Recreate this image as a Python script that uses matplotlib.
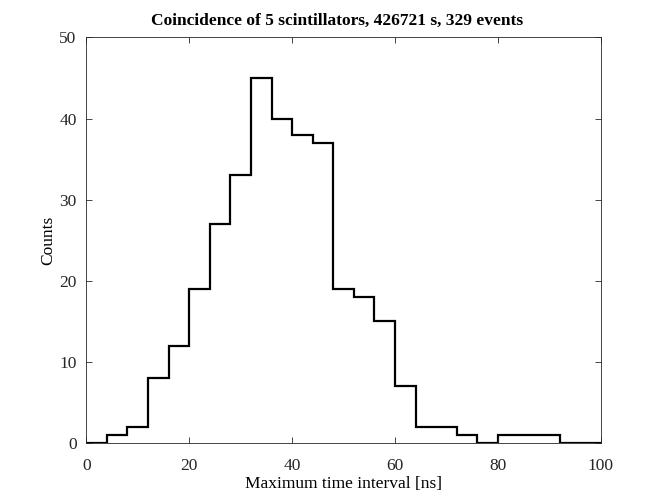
import matplotlib
matplotlib.use("Agg")
import matplotlib.pyplot as plt
import numpy as np

# bin edges (4 ns wide) and counts per bin
bin_edges = np.arange(0, 101, 4)
counts = [0, 1, 2, 8, 12, 19, 27, 33, 45, 40, 38, 37, 19,
          18, 15, 7, 2, 2, 1, 0, 1, 1, 1, 0, 0]

plt.rcParams.update({
    "font.family": "Liberation Serif",
    "font.size": 12,
    "axes.edgecolor": "#262626",
    "xtick.color": "#262626",
    "ytick.color": "#262626",
})

fig = plt.figure(figsize=(6.64, 4.98), dpi=100)
ax = fig.add_axes([0.13, 0.11, 0.775, 0.815])

ax.stairs(counts, bin_edges, color="black", linewidth=1.6)

ax.set_xlim(0, 100)
ax.set_ylim(0, 50)
ax.set_xticks(np.arange(0, 101, 20))
ax.set_yticks(np.arange(0, 51, 10))
ax.tick_params(direction="in", top=True, right=True, length=4, width=0.6,
               labelsize=12.5)
ax.tick_params(axis="x", pad=11)
ax.tick_params(axis="y", pad=7)
for s in ax.spines.values():
    s.set_linewidth(0.6)

ax.set_xlabel("Maximum time interval [ns]", fontsize=12.5, labelpad=1)
ax.set_ylabel("Counts", fontsize=12.5, labelpad=2)
ax.set_title("Coincidence of 5 scintillators, 426721 s, 329 events",
             fontsize=12.5, fontweight="bold", pad=9, x=0.487)

fig.savefig("out.png", dpi=100, facecolor="white")
